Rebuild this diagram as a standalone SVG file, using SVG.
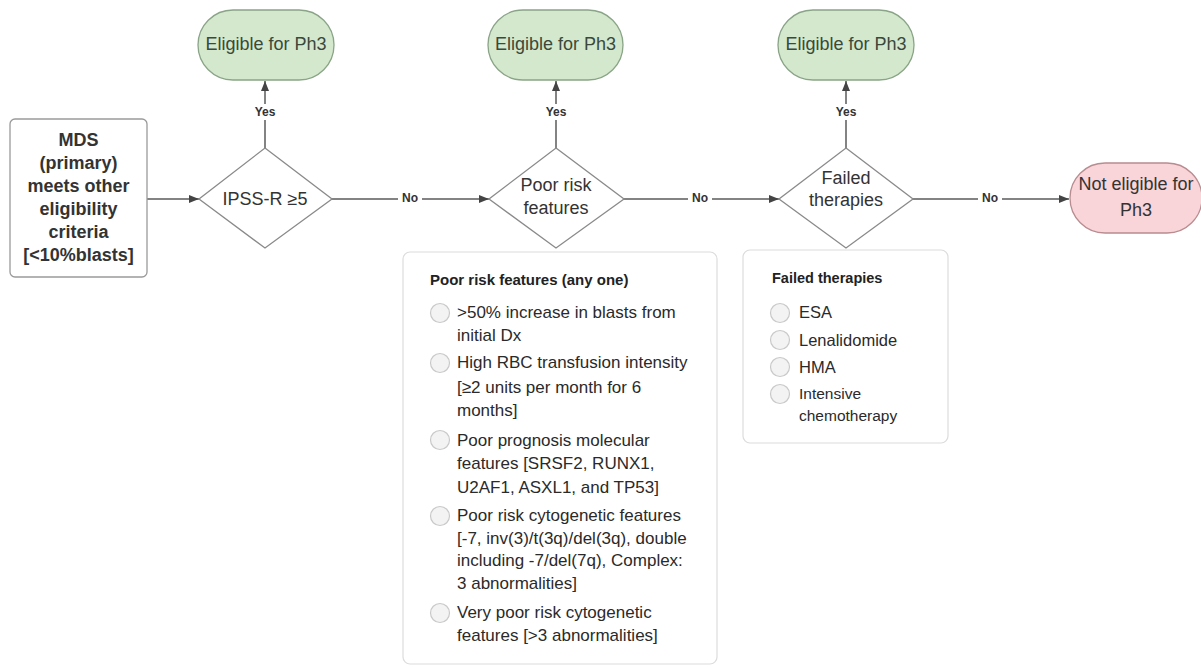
<svg xmlns="http://www.w3.org/2000/svg" width="1201" height="667" viewBox="0 0 1201 667">
<style>
text{font-family:"Liberation Sans",Arial,sans-serif;fill:#333}
.lbl{font-size:18px;text-anchor:middle;dominant-baseline:central}
.bold{font-weight:bold}
.small{font-size:12px;font-weight:bold;text-anchor:middle;dominant-baseline:central;fill:#333}
.pillg{fill:#d3e8cd;stroke:#8aa487;stroke-width:1.3}
.pillr{fill:#f9d4d8;stroke:#b88c90;stroke-width:1.3}
.dia{fill:#fff;stroke:#8a8a8a;stroke-width:1.3}
.panel{fill:#fff;stroke:#dcdcdc;stroke-width:1.2}
.item{font-size:17px;fill:#2a2a2a;dominant-baseline:central}
.ttl{font-size:15px;font-weight:bold;fill:#222;dominant-baseline:central}
.rad{fill:#f3f3f3;stroke:#c9c9c9;stroke-width:1.2}
.con{stroke:#5a5a5a;stroke-width:1.5;fill:none}
.lblbg{fill:#fff}
</style>
<defs>
<marker id="ah" viewBox="0 0 10 10" refX="10" refY="5" markerWidth="10" markerHeight="10" markerUnits="userSpaceOnUse" orient="auto">
<path d="M0,1 L10,5 L0,9 z" fill="#444"/>
</marker>
</defs>
<rect width="1201" height="667" fill="#fff"/>

<g id="connectors">
<line class="con" x1="147" y1="199" x2="199" y2="199" marker-end="url(#ah)"/>
<line class="con" x1="265" y1="148" x2="265" y2="81" marker-end="url(#ah)"/>
<line class="con" x1="332" y1="199" x2="489" y2="199" marker-end="url(#ah)"/>
<line class="con" x1="556" y1="148" x2="556" y2="81" marker-end="url(#ah)"/>
<line class="con" x1="624" y1="199" x2="779" y2="199" marker-end="url(#ah)"/>
<line class="con" x1="846" y1="148" x2="846" y2="81" marker-end="url(#ah)"/>
<line class="con" x1="913" y1="199" x2="1069" y2="199" marker-end="url(#ah)"/>
<rect class="lblbg" x="252" y="104" width="26" height="16"/>
<text class="small" x="265" y="112">Yes</text>
<rect class="lblbg" x="543" y="104" width="26" height="16"/>
<text class="small" x="556" y="112">Yes</text>
<rect class="lblbg" x="833" y="104" width="26" height="16"/>
<text class="small" x="846" y="112">Yes</text>
<rect class="lblbg" x="398" y="191" width="24" height="16"/>
<text class="small" x="410" y="198">No</text>
<rect class="lblbg" x="688" y="191" width="24" height="16"/>
<text class="small" x="700" y="198">No</text>
<rect class="lblbg" x="978" y="191" width="24" height="16"/>
<text class="small" x="990" y="198">No</text>
</g>

<g id="start">
<rect x="10" y="119" width="137" height="158" rx="5" fill="#fff" stroke="#9a9a9a" stroke-width="1.3"/>
<text class="lbl bold" x="78.5" y="140">MDS</text>
<text class="lbl bold" x="78.5" y="163">(primary)</text>
<text class="lbl bold" x="78.5" y="186">meets other</text>
<text class="lbl bold" x="78.5" y="209">eligibility</text>
<text class="lbl bold" x="78.5" y="232">criteria</text>
<text class="lbl bold" x="78.5" y="255">[&lt;10%blasts]</text>
</g>

<g id="d1">
<polygon class="dia" points="265,148 332,199 265,248 199,199"/>
<text class="lbl" x="265" y="199">IPSS-R ≥5</text>
</g>
<g id="d2">
<polygon class="dia" points="556,148 624,199 556,248 489,199"/>
<text class="lbl" x="556" y="185">Poor risk</text>
<text class="lbl" x="556" y="208">features</text>
</g>
<g id="d3">
<polygon class="dia" points="846,148 913,199 846,248 779,199"/>
<text class="lbl" x="846" y="178">Failed</text>
<text class="lbl" x="846" y="200">therapies</text>
</g>

<g id="e1">
<rect class="pillg" x="198" y="10" width="136" height="70" rx="35"/>
<text class="lbl" x="266" y="44" style="fill:#3b483b">Eligible for Ph3</text>
</g>
<g id="e2">
<rect class="pillg" x="488" y="10" width="135" height="70" rx="35"/>
<text class="lbl" x="555.5" y="44" style="fill:#3b483b">Eligible for Ph3</text>
</g>
<g id="e3">
<rect class="pillg" x="778" y="10" width="136" height="70" rx="35"/>
<text class="lbl" x="846" y="44" style="fill:#3b483b">Eligible for Ph3</text>
</g>
<g id="ne">
<rect class="pillr" x="1070" y="163" width="132" height="70" rx="35"/>
<text class="lbl" x="1136" y="184">Not eligible for</text>
<text class="lbl" x="1136" y="210">Ph3</text>
</g>

<g id="poor-risk-panel">
<rect class="panel" x="403" y="252" width="314" height="412" rx="7"/>
<text class="ttl" x="430" y="279">Poor risk features (any one)</text>
<circle class="rad" cx="440" cy="313" r="9.5"/>
<text class="item" x="457" y="312">&gt;50% increase in blasts from</text>
<text class="item" x="457" y="335">initial Dx</text>
<circle class="rad" cx="440" cy="363" r="9.5"/>
<text class="item" x="457" y="362">High RBC transfusion intensity</text>
<text class="item" x="457" y="387">[≥2 units per month for 6</text>
<text class="item" x="457" y="410">months]</text>
<circle class="rad" cx="440" cy="440" r="9.5"/>
<text class="item" x="457" y="440">Poor prognosis molecular</text>
<text class="item" x="457" y="463">features [SRSF2, RUNX1,</text>
<text class="item" x="457" y="487">U2AF1, ASXL1, and TP53]</text>
<circle class="rad" cx="440" cy="516" r="9.5"/>
<text class="item" x="457" y="515">Poor risk cytogenetic features</text>
<text class="item" x="457" y="538">[-7, inv(3)/t(3q)/del(3q), double</text>
<text class="item" x="457" y="560">including -7/del(7q), Complex:</text>
<text class="item" x="457" y="583">3 abnormalities]</text>
<circle class="rad" cx="440" cy="613" r="9.5"/>
<text class="item" x="457" y="612">Very poor risk cytogenetic</text>
<text class="item" x="457" y="635">features [&gt;3 abnormalities]</text>
</g>

<g id="failed-panel">
<rect class="panel" x="743" y="250" width="205" height="193" rx="7"/>
<text class="ttl" x="772" y="278" style="font-size:14.5px">Failed therapies</text>
<circle class="rad" cx="780" cy="313" r="9.5"/>
<text class="item" x="799" y="312" style="font-size:16.5px">ESA</text>
<circle class="rad" cx="780" cy="340" r="9.5"/>
<text class="item" x="799" y="340" style="font-size:16.5px">Lenalidomide</text>
<circle class="rad" cx="780" cy="367" r="9.5"/>
<text class="item" x="799" y="367" style="font-size:16.5px">HMA</text>
<circle class="rad" cx="780" cy="394" r="9.5"/>
<text class="item" x="799" y="393" style="font-size:15.5px">Intensive</text>
<text class="item" x="799" y="415" style="font-size:15.5px">chemotherapy</text>
</g>
</svg>
